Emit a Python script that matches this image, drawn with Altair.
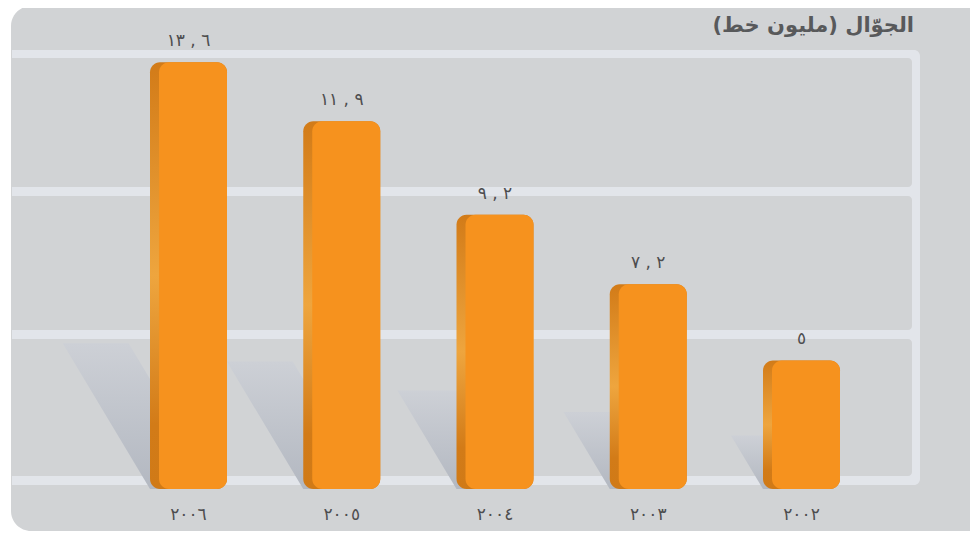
import altair as alt
import pandas as pd

# ---- data -------------------------------------------------------------
years = ["٢٠٠٦", "٢٠٠٥", "٢٠٠٤", "٢٠٠٣", "٢٠٠٢"]
values = [13.6, 11.9, 9.2, 7.2, 5.0]
value_labels = ["١٣ , ٦", "١١ , ٩", "٩ , ٢", "٧ , ٢", "٥"]
title_text = "الجوّال (مليون خط)"

LRO, PDF, RLM = "\u202d", "\u202c", "\u200f"

df = pd.DataFrame({
    "year": years,
    "value": values,
    "label": [LRO + s + PDF for s in value_labels],
})

# ---- scales -----------------------------------------------------------
BASE = 1.29
yscale = alt.Scale(domain=[BASE, 14], range=[481, 40.5], zero=False, nice=False)
xband = alt.Scale(type="band", domain=years, range=[142, 832],
                  paddingInner=0.4976, paddingOuter=0, round=False)
xlin = alt.Scale(domain=[0, 4.5024], range=[142, 832], zero=False, nice=False)

# shadow (sheared projection of each bar, proportional to its value)
srows = []
for i, (yr, v) in enumerate(zip(years, values)):
    shift = 0.0419 * v
    srows.append({"year": yr, "y": BASE + 0.309 * v, "x": i - shift, "x2": i - shift + 0.43})
    srows.append({"year": yr, "y": BASE, "x": i, "x2": i + 0.43})
sdf = pd.DataFrame(srows)

one = pd.DataFrame({"a": [0]})

PANEL = "#d1d3d5"
FRAME = "#e2e5ea"
ORANGE = "#f6921e"
TEXT = "#4d4d4f"

W, H = 962, 523

# ---- decoration -------------------------------------------------------
panel = alt.Chart(one).mark_rect(color=PANEL, cornerRadius=20).encode(
    x=alt.value(3), x2=alt.value(985), y=alt.value(-2), y2=alt.value(H)
)
frame = alt.Chart(one).mark_rect(color=FRAME, cornerRadiusTopRight=6, cornerRadiusBottomRight=6).encode(
    x=alt.value(4), x2=alt.value(912), y=alt.value(42), y2=alt.value(477)
)
cells = []
for (t, b) in [(50, 179), (188, 322), (331, 468)]:
    cells.append(
        alt.Chart(one).mark_rect(color=PANEL, cornerRadiusTopRight=4, cornerRadiusBottomRight=4).encode(
            x=alt.value(4), x2=alt.value(904), y=alt.value(t), y2=alt.value(b)
        )
    )

shadow_grad = alt.LinearGradient(
    gradient="linear",
    stops=[alt.GradientStop(color="#cdd0d6", offset=0), alt.GradientStop(color="#b3b8c1", offset=1)],
    x1=0, x2=0, y1=0, y2=1,
)
shadows = alt.Chart(sdf).mark_area(orient="horizontal", color=shadow_grad).encode(
    y=alt.Y("y:Q", scale=yscale, axis=None),
    x=alt.X("x:Q", scale=xlin, axis=None, stack=None),
    x2="x2:Q",
    detail="year:N",
)

side_grad = alt.LinearGradient(
    gradient="linear",
    stops=[
        alt.GradientStop(color="#d27b18", offset=0),
        alt.GradientStop(color="#eea53e", offset=0.5),
        alt.GradientStop(color="#d27b18", offset=0.85),
        alt.GradientStop(color="#d07a17", offset=1),
    ],
    x1=0, x2=0, y1=0, y2=1,
)

xenc = alt.X("year:N", scale=xband, axis=None, sort=years)
yenc = alt.Y("value:Q", scale=yscale, axis=None)

side = alt.Chart(df).mark_bar(cornerRadius=10, color=side_grad).encode(
    x=xenc, y=yenc, y2=alt.datum(BASE)
)
front = alt.Chart(df).mark_bar(cornerRadius=10, color=ORANGE, width=68, xOffset=4.5).encode(
    x=xenc, y=yenc, y2=alt.datum(BASE)
)

value_text = alt.Chart(df).mark_text(
    font="DejaVu Sans", fontSize=17, color=TEXT, baseline="alphabetic", dy=-16
).encode(x=xenc, y=yenc, text="label:N")

year_text = alt.Chart(df).mark_text(
    font="DejaVu Sans", fontSize=17, color=TEXT, baseline="middle"
).encode(x=xenc, y=alt.value(507), text="year:N")

title = alt.Chart(one).mark_text(
    font="DejaVu Sans", fontSize=21, fontWeight="bold", color="#58595b", align="right", baseline="alphabetic"
).encode(x=alt.value(906), y=alt.value(24), text=alt.value(RLM + title_text + RLM))

chart = alt.layer(
    panel, frame, *cells, shadows, side, front, value_text, year_text, title
).resolve_scale(x="independent").properties(
    width=W, height=H, padding=0, autosize="none", background="white"
).configure_view(stroke=None)

chart.save("out.html", embed_options={"renderer": "svg", "actions": False})
